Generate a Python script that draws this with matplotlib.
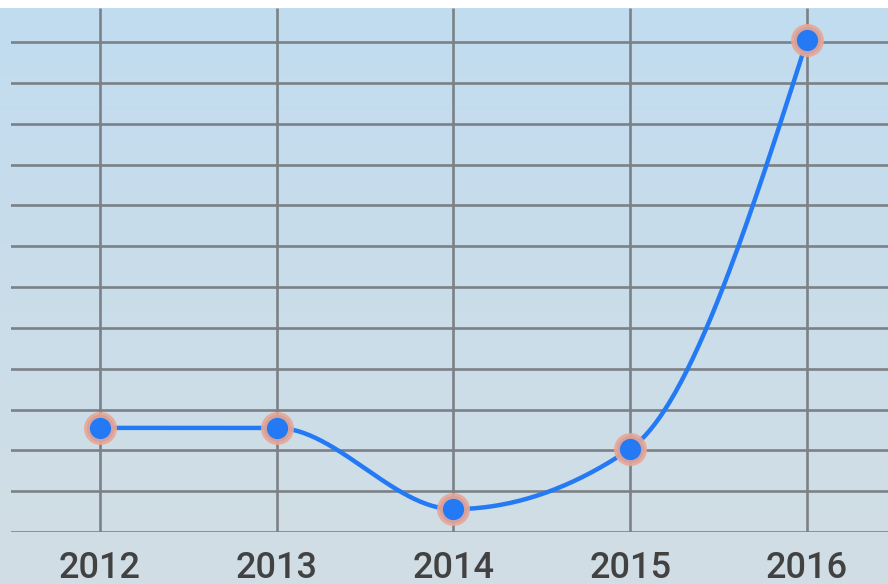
import numpy as np
import matplotlib
matplotlib.use('Agg')
import matplotlib.pyplot as plt

years = [2012, 2013, 2014, 2015, 2016]
values = [2.55, 2.55, 0.56, 2.04, 12.05]
yticks = list(range(0, 13))


def monotone(x, y, n=60):
    # monotone cubic (like d3 curveMonotoneX)
    x = np.asarray(x, float)
    y = np.asarray(y, float)
    h = np.diff(x)
    s = np.diff(y) / h
    t = np.zeros(len(x))
    for i in range(1, len(x) - 1):
        p = (s[i - 1] * h[i] + s[i] * h[i - 1]) / (h[i - 1] + h[i])
        t[i] = (np.sign(s[i - 1]) + np.sign(s[i])) * min(abs(s[i - 1]), abs(s[i]), 0.5 * abs(p))
    t[0] = (3 * s[0] - t[1]) / 2
    t[-1] = (3 * s[-1] - t[-2]) / 2
    xs, ys = [], []
    for i in range(len(x) - 1):
        u = np.linspace(0, 1, n)
        h00 = 2 * u**3 - 3 * u**2 + 1
        h10 = u**3 - 2 * u**2 + u
        h01 = -2 * u**3 + 3 * u**2
        h11 = u**3 - u**2
        xs.append(x[i] + u * h[i])
        ys.append(h00 * y[i] + h10 * h[i] * t[i] + h01 * y[i + 1] + h11 * h[i] * t[i + 1])
    return np.concatenate(xs), np.concatenate(ys)


fig = plt.figure(figsize=(8.88, 5.84), dpi=100, facecolor='white')

# gradient background
bg = fig.add_axes([0, 0, 1, 576 / 584])
top = np.array([193, 220, 240]) / 255
bot = np.array([210, 222, 228]) / 255
g = np.linspace(0, 1, 256)[:, None]
grad = top[None, :] * (1 - g) + bot[None, :] * g
bg.imshow(grad[:, None, :].repeat(2, axis=1), aspect='auto', extent=[0, 1, 0, 1])
bg.axis('off')

ax = fig.add_axes([11 / 888, 52 / 584, 877 / 888, 524 / 584])
ax.patch.set_alpha(0)
ax.set_xlim(2012 - 89 / 177, 2016 + 81 / 177)
ax.set_ylim(0, 524 / 40.83)
ax.set_xticks(years)
ax.set_xticklabels([str(y) for y in years])
ax.set_yticks(yticks)
ax.set_yticklabels([])
ax.tick_params(axis='both', length=0)
ax.tick_params(axis='x', pad=14, labelsize=26, labelcolor='#424242')
for lab in ax.get_xticklabels():
    lab.set_fontfamily('Roboto')
    lab.set_fontweight('medium')
for sp in ax.spines.values():
    sp.set_visible(False)

gc = '#7b8186'
for yv in yticks:
    ax.axhline(yv, color=gc, lw=1.9, zorder=1)
for xv in years:
    ax.plot([xv, xv], [0, 524 / 40.83], color=gc, lw=1.9, zorder=1, solid_capstyle='butt')

cx, cy = monotone(years, values)
ax.plot(cx, cy, color='#2479f4', lw=3.2, zorder=3)
ax.plot(years, values, 'o', ms=19.5, mfc='#2479f4', mec=(0.91, 0.65, 0.58, 0.9), mew=4.2, zorder=4)

fig.savefig('out.png', dpi=100, facecolor='white')
